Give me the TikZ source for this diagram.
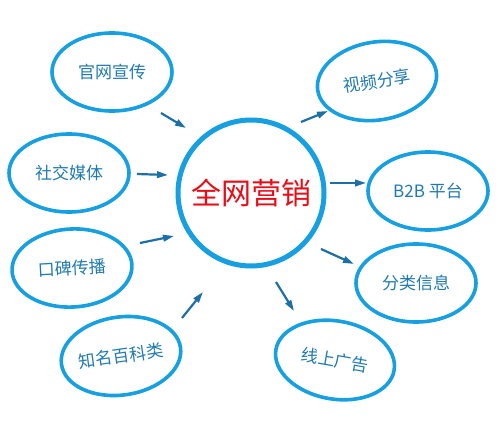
\documentclass[tikz,border=0pt]{standalone}
\usepackage{fontspec}
\newfontfamily\cjk{Noto Sans CJK SC}
\usetikzlibrary{shapes.geometric,arrows.meta}
\definecolor{ringblue}{RGB}{22,160,225}
\definecolor{txtblue}{RGB}{32,122,178}
\definecolor{arrblue}{RGB}{28,112,165}
\definecolor{hubred}{RGB}{235,12,24}
\tikzset{
  sat/.style={ellipse, draw=ringblue, line width=3.6pt, minimum width=120pt, minimum height=78pt,
    inner sep=0pt, text=txtblue, font=\cjk\fontsize{17}{17}\selectfont},
  hub/.style={circle, draw=ringblue, line width=5pt, minimum size=146pt, inner sep=0pt,
    text=hubred, font=\cjk\fontsize{30}{30}\selectfont},
  arr/.style={draw=arrblue, line width=2.2pt, -{Triangle[length=11pt,width=6.5pt]}}
}
\begin{document}
\begin{tikzpicture}[x=1pt,y=-1pt]
\useasboundingbox[fill=white] (0,0) rectangle (503,423);
\node[hub] (hub) at (251,193) {全网营销};
\node[sat] (gw) at (112,72) {官网宣传};
\node[sat] (sj) at (69,173) {社交媒体};
\node[sat, rotate=3] (kb) at (72,268) {口碑传播};
\node[sat, rotate=8] (zm) at (121,356) {知名百科类};
\node[sat, rotate=9] (sp) at (377,81) {视频分享};
\node[sat] (b2b) at (428,191) {B2B 平台};
\node[sat] (fl) at (416,283) {分类信息};
\node[sat, rotate=-10] (xs) at (335,360) {线上广告};
% arrow end points
\coordinate (a1s) at (161,113); \coordinate (a1e) at (186,128);
\coordinate (a2s) at (137,174); \coordinate (a2e) at (168,175);
\coordinate (a3s) at (140,243); \coordinate (a3e) at (174,236);
\coordinate (a4s) at (182,318); \coordinate (a4e) at (203,292);
\coordinate (a5s) at (301,122); \coordinate (a5e) at (328,111);
\coordinate (a6s) at (330,183); \coordinate (a6e) at (366,183);
\coordinate (a7s) at (321,249); \coordinate (a7e) at (354,264);
\coordinate (a8s) at (276,282); \coordinate (a8e) at (294,311);
\draw[arr] (a1s) -- (a1e);
\draw[arr] (a2s) -- (a2e);
\draw[arr] (a3s) -- (a3e);
\draw[arr] (a4s) -- (a4e);
\draw[arr] (a5s) -- (a5e);
\draw[arr] (a6s) -- (a6e);
\draw[arr] (a7s) -- (a7e);
\draw[arr] (a8s) -- (a8e);
\end{tikzpicture}
\end{document}
